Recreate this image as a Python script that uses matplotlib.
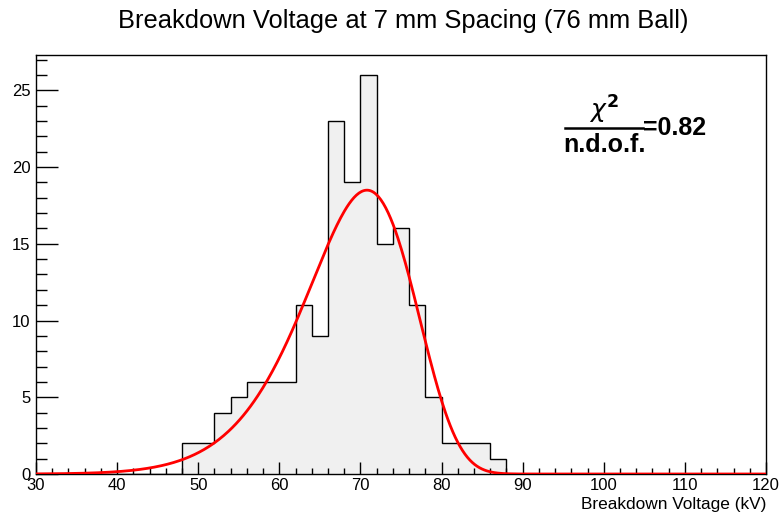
import numpy as np
import matplotlib.pyplot as plt
from matplotlib.lines import Line2D

plt.rcParams['font.family'] = ['Liberation Sans', 'DejaVu Sans']

# histogram: 2 kV bins from 30 to 120 kV
BIN_EDGES = np.arange(30, 122, 2)
# counts, keyed by bin low edge
counts_by_edge = {48: 2, 50: 2, 52: 4, 54: 5, 56: 6, 58: 6, 60: 6,
                  62: 11, 64: 9, 66: 23, 68: 19, 70: 26, 72: 15,
                  74: 16, 76: 11, 78: 5, 80: 2, 82: 2, 84: 2, 86: 1}
counts = np.array([counts_by_edge.get(e, 0) for e in BIN_EDGES[:-1]])

# Weibull fit parameters (estimated from the drawn curve)
FIT_SHAPE = 11.0
FIT_SCALE = 71.42
FIT_NORM = 162.5   # events
BIN_WIDTH = 2.0
CHI2_NDOF = "0.82"

TITLE = "Breakdown Voltage at 7 mm Spacing (76 mm Ball)"
XLABEL = "Breakdown Voltage (kV)"


def weibull(x, k, lam):
    u = x / lam
    return (k / lam) * u ** (k - 1) * np.exp(-u ** k)


fig = plt.figure(figsize=(7.81, 5.15), dpi=100)
ax = fig.add_axes([36 / 781, 41 / 515, 730 / 781, 419 / 515])

ax.stairs(counts, BIN_EDGES, fill=True, color='#f0f0f0', zorder=1)
ax.stairs(counts, BIN_EDGES, color='black', linewidth=1.0, zorder=2)

xs = np.linspace(30, 120, 600)
ax.plot(xs, FIT_NORM * BIN_WIDTH * weibull(xs, FIT_SHAPE, FIT_SCALE),
        color='red', linewidth=2.0, zorder=3)

ax.set_xlim(30, 120)
ax.set_ylim(0, 27.3)
ax.set_xticks(np.arange(30, 121, 10))
ax.set_xticks(np.arange(30, 121, 2), minor=True)
ax.set_yticks(np.arange(0, 26, 5))
ax.set_yticks(np.arange(0, 28, 1), minor=True)

ax.tick_params(axis='both', which='both', direction='in', top=False, right=False,
               labelsize=12, width=1.0)
ax.tick_params(axis='y', which='major', length=16, pad=4)
ax.tick_params(axis='y', which='minor', length=8)
ax.tick_params(axis='x', which='major', length=9, pad=3)
ax.tick_params(axis='x', which='minor', length=4.5)
for sp in ax.spines.values():
    sp.set_linewidth(1.0)

fig.text(403 / 781, 1 - 21 / 515, TITLE, ha='center', va='center', fontsize=18.4)
fig.text(766 / 781, 1 - 504 / 515, XLABEL, ha='right', va='center', fontsize=12.4)

# chi2 / ndof fraction
bold = dict(fontsize=18, fontweight='bold', family='Liberation Sans')
fig.text(604 / 781, 1 - 110 / 515, r"$\chi^{\mathbf{2}}$", ha='center', va='center',
         fontsize=18)
fig.add_artist(Line2D([565 / 781, 643 / 781], [1 - 128 / 515, 1 - 128 / 515],
                      color='black', linewidth=1.8))
fig.text(604 / 781, 1 - 145 / 515, "n.d.o.f.", ha='center', va='center', **bold)
fig.text(643 / 781, 1 - 128 / 515, "=" + CHI2_NDOF, ha='left', va='center', **bold)

fig.savefig('out.png', dpi=100)
